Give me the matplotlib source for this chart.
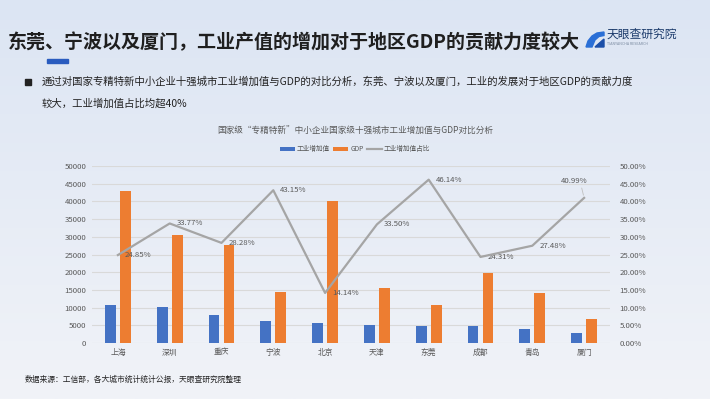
import numpy as np
import matplotlib
matplotlib.use("Agg")
import matplotlib.pyplot as plt
from matplotlib.patches import Rectangle, Polygon

plt.rcParams['font.family'] = ['Noto Sans CJK SC', 'DejaVu Sans']

# data
cities = ['上海', '深圳', '重庆', '宁波', '北京', '天津', '东莞', '成都', '青岛', '厦门']
industry_added = [10680, 10300, 7830, 6250, 5680, 5220, 4940, 4810, 3850, 2810]
gdp = [43000, 30500, 27700, 14490, 40170, 15580, 10700, 19780, 14010, 6860]
share_pct = [24.85, 33.77, 28.28, 43.15, 14.14, 33.50, 46.14, 24.31, 27.48, 40.99]

BLUE = '#4472c4'
ORANGE = '#ed7d31'
GRAY = '#a5a5a5'
TXT = '#595959'

W, H = 710, 399
fig = plt.figure(figsize=(W / 100, H / 100), dpi=100)

# background gradient
bg = fig.add_axes([0, 0, 1, 1], zorder=-10)
grad = np.linspace(0, 1, 256).reshape(-1, 1)
c_top = np.array([0xdc, 0xe5, 0xf3]) / 255
c_bot = np.array([0xf1, 0xf3, 0xf8]) / 255
img = c_top + (c_bot - c_top) * grad[..., None]
bg.imshow(img, aspect='auto', extent=[0, 1, 0, 1])
bg.set_axis_off()

def px(x, y):
    return x / W, 1 - y / H

# title
fig.text(*px(8, 42), '东莞、宁波以及厦门，工业产值的增加对于地区GDP的贡献力度较大',
         fontsize=13.7, fontweight='bold', color='#1f1f1f', va='center', ha='left')
fig.patches.append(Rectangle(px(47, 63), 21 / W, 4 / H, transform=fig.transFigure,
                             color='#2a5cbf', zorder=5))

# logo
swoosh = [(586, 47), (588, 41), (592, 36), (597, 33), (604, 32), (604, 35.5),
          (599, 36.5), (595, 40), (592, 47)]
fig.patches.append(Polygon([px(a, b) for a, b in swoosh], closed=True,
                           transform=fig.transFigure, color='#2a6fd6', zorder=5))
fig.patches.append(Polygon([px(a, b) for a, b in [(595, 47), (604, 39), (604, 47)]],
                           closed=True, transform=fig.transFigure, color='#1c4fa8', zorder=5))
fig.text(*px(607, 34), '天眼查研究院', fontsize=8.5, color='#1b3a6b', va='center', ha='left')
fig.text(*px(607, 44), 'TIANYANCHA RESEARCH', fontsize=2.6, color='#7a8aa0', va='center', ha='left')

# bullet text
fig.patches.append(Rectangle(px(25, 85), 6 / W, 6 / H, transform=fig.transFigure,
                             color='#222222', zorder=5))
fig.text(*px(42, 82), '通过对国家专精特新中小企业十强城市工业增加值与GDP的对比分析，东莞、宁波以及厦门，工业的发展对于地区GDP的贡献力度',
         fontsize=7.5, color='#222222', va='center', ha='left')
fig.text(*px(42, 104), '较大，工业增加值占比均超40%', fontsize=7.5, color='#222222',
         va='center', ha='left')

# chart title
fig.text(*px(355, 131), '国家级“专精特新”中小企业国家级十强城市工业增加值与GDP对比分析',
         fontsize=6.2, color=TXT, va='center', ha='center')

# source
fig.text(*px(25, 380), '数据来源：工信部，各大城市统计统计公报，天眼查研究院整理',
         fontsize=5.6, color='#222222', va='center', ha='left')

# main chart
ax = fig.add_axes([92 / W, 1 - 343 / H, (610 - 92) / W, (343 - 166) / H])
ax.set_facecolor('none')
x = np.arange(len(cities))
bw = 0.21
b1 = ax.bar(x - 0.145, industry_added, bw, color=BLUE, label='工业增加值', zorder=3)
b2 = ax.bar(x + 0.145, gdp, bw, color=ORANGE, label='GDP', zorder=3)
ax.set_ylim(0, 50000)
ax.set_xlim(-0.5, len(cities) - 0.5)
ax.set_yticks(np.arange(0, 50001, 5000))
ax.yaxis.grid(True, color='#d9d9d9', linewidth=0.8, zorder=0)
ax.set_xticks(x)
ax.set_xticklabels(cities)
ax.tick_params(axis='both', length=0, labelsize=5.6, labelcolor=TXT)
ax.tick_params(axis='x', pad=4)
ax.tick_params(axis='y', pad=4)
for s in ax.spines.values():
    s.set_visible(False)

ax2 = ax.twinx()
ax2.set_ylim(0, 50)
ax2.set_yticks(np.arange(0, 50.01, 5))
ax2.set_yticklabels(['%.2f%%' % v for v in np.arange(0, 50.01, 5)])
ax2.tick_params(axis='y', length=0, labelsize=5.6, labelcolor=TXT, pad=7)
for s in ax2.spines.values():
    s.set_visible(False)
ln, = ax2.plot(x, share_pct, color=GRAY, linewidth=1.6, label='工业增加值占比', zorder=4)

for i, v in enumerate(share_pct):
    if i == len(share_pct) - 1:
        # last label sits above the point with a short leader line
        ax2.annotate('%.2f%%' % v, xy=(x[i], v), xytext=(-7, 12), textcoords='offset points',
                     fontsize=5.6, color=TXT, ha='center', va='center',
                     arrowprops=dict(arrowstyle='-', color='#bfbfbf', linewidth=0.6,
                                     shrinkA=0, shrinkB=2, relpos=(0.75, 0)))
    else:
        ax2.annotate('%.2f%%' % v, xy=(x[i], v), xytext=(5, 0), textcoords='offset points',
                     fontsize=5.6, color=TXT, ha='left', va='center')

fig.legend([b1, b2, ln], ['工业增加值', 'GDP', '工业增加值占比'], loc='center',
           bbox_to_anchor=px(355, 149), ncol=3, frameon=False, fontsize=4.8,
           handlelength=2.25, handleheight=0.5, handletextpad=0.3, columnspacing=0.45,
           labelcolor=TXT)

fig.savefig('out.png', dpi=100)
